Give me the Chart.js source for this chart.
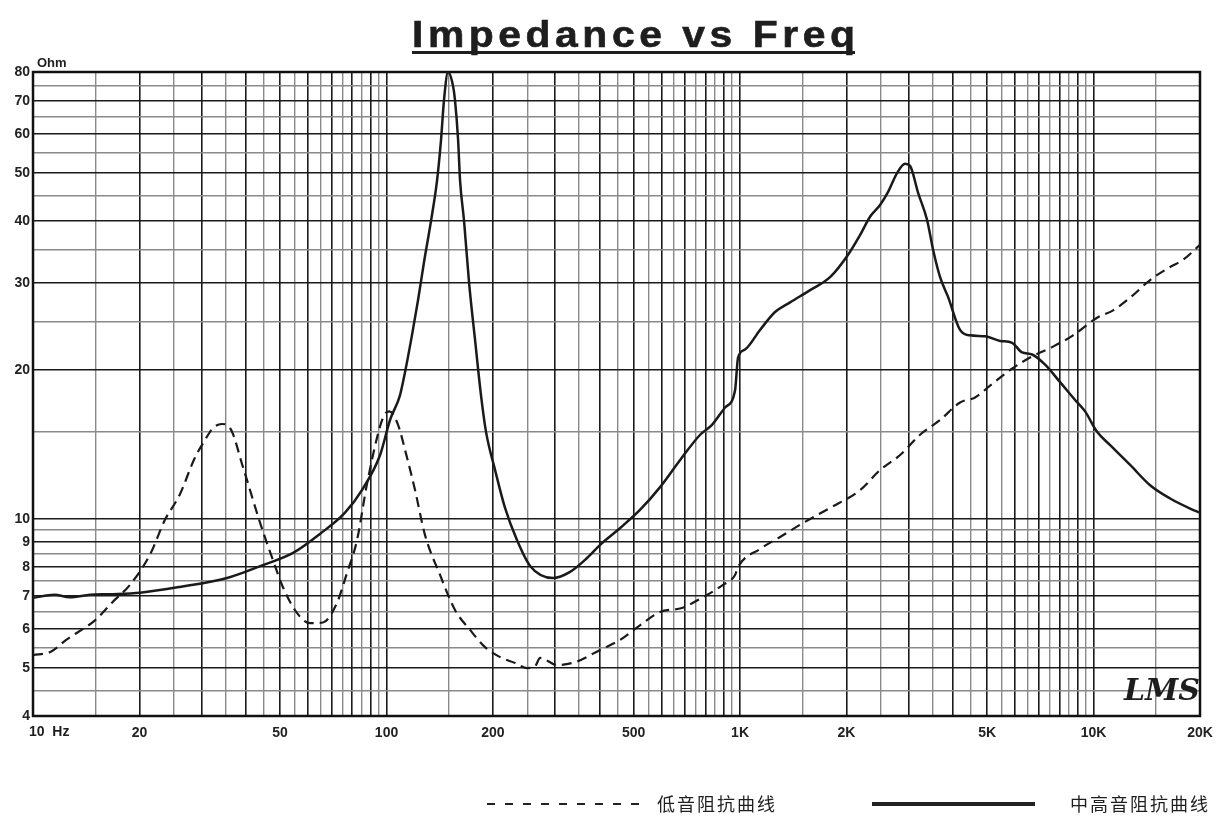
<!DOCTYPE html>
<html>
<head>
<meta charset="utf-8">
<script src="https://cdn.jsdelivr.net/npm/chart.js@4.4.0/dist/chart.umd.min.js"></script>
<style>
  html, body { margin:0; padding:0; background:#fff; }
  #wrap { width:1227px; height:818px; position:relative; }
</style>
</head>
<body>
<div id="wrap"><canvas id="chart"></canvas></div>
<script>
// bass (dashed) impedance curve
const freqBass = [10,11.2,12.5,15,16.8,18.8,21.4,23.6,26,28.7,30.3,32.3,34.2,36.1,39.3,43.9,47.7,50.9,55.8,60.8,66.1,72.4,77.3,82.5,88.1,95.9,99,102,107.8,112.8,120.4,128.5,141.7,156.2,172.3,190,209.5,231,250,263,272,304,342,402,458,521,594,685,771,895,968,987,1139,1298,1508,1797,2186,2489,2836,3230,3680,4191,4622,5095,5805,6613,7681,8750,10230,11360,12690,14450,16460,17920,20000];
const ohmBass  = [5.31,5.39,5.72,6.25,6.8,7.36,8.46,9.95,11.2,13.3,14.24,15.27,15.56,15.27,12.7,9.82,8.27,7.29,6.46,6.16,6.18,6.77,7.78,9.06,11.8,15.4,16.3,16.5,15.5,13.8,11.44,9.28,7.71,6.55,5.97,5.51,5.26,5.12,5.0,5.04,5.24,5.07,5.14,5.44,5.7,6.1,6.49,6.61,6.9,7.36,7.71,8.0,8.7,9.2,9.82,10.53,11.44,12.56,13.47,14.8,15.85,17.2,17.6,18.6,20,21.2,22.3,23.5,25.5,26.4,28,30.4,32.3,33.4,35.8];

// mid/high (solid) impedance curve
const freqMid = [10,11.5,12.7,14.5,16.5,20.1,26,35.4,44.7,54.4,64.8,76.3,85.2,95.9,102.3,109.2,112.8,118,122.8,127.7,133.6,139,142.6,145.4,149.3,154.2,156.2,159.4,161.4,165.7,171.2,178,185,191.2,202.8,216.4,234,254.7,295.8,330.5,369,402,458,521,594,677,771,833,907,968,987,1033,1139,1256,1385,1578,1797,2021,2186,2332,2489,2623,2780,2930,3026,3189,3381,3516,3680,3876,4191,4472,4933,5440,5882,6278,6699,7294,8040,8866,9462,10230,11140,12690,14450,16460,18750,20000];
const ohmMid  = [6.93,7.03,6.95,7.03,7.05,7.1,7.29,7.6,8.07,8.54,9.33,10.3,11.44,13.47,15.85,17.8,19.8,23.5,27.7,33.1,40,48.4,58.3,70.2,80,75,70.2,58.3,48.4,40,30,23,17.8,15,12.56,10.53,9.06,8.04,7.6,7.82,8.34,8.87,9.59,10.43,11.6,13.16,14.8,15.5,16.8,18.2,21.2,22,24.1,26.2,27.4,29,30.8,34.2,37.5,40.8,43.1,45.8,50,52.2,51.7,45.6,40.2,35,30.8,28.1,24.1,23.5,23.4,22.9,22.7,21.7,21.5,20.5,18.9,17.4,16.5,15,14.1,12.86,11.7,11,10.5,10.3];

const yTickValues = [4,5,6,7,8,9,10,20,30,40,50,60,70,80];
const xTickValues = [10,20,50,100,200,500,1000,2000,5000,10000,20000];
const xTickLabels = ['10  Hz','20','50','100','200','500','1K','2K','5K','10K','20K'];
const seriesNames = ['低音阻抗曲线','中高音阻抗曲线'];

// grid lines: every 5 Hz / 50 Hz / 500 Hz, every 0.5 / 5 ohm
const xGrid = [];
for (let v = 10; v <= 100; v += 5) xGrid.push(v);
for (let v = 150; v <= 1000; v += 50) xGrid.push(v);
for (let v = 1500; v <= 10000; v += 500) xGrid.push(v);
xGrid.push(15000, 20000);
const yGrid = [];
for (let v = 4; v <= 10; v += 0.5) yGrid.push(v);
for (let v = 15; v <= 80; v += 5) yGrid.push(v);

function isMajor(v){
  const m = v / Math.pow(10, Math.floor(Math.log10(v) + 1e-9));
  return Math.abs(m - Math.round(m)) < 1e-6;
}

const FONT = '"Liberation Sans", Arial, sans-serif';

const decor = {
  id: 'decor',
  beforeDatasetsDraw(chart){
    const {ctx, chartArea:a} = chart;
    ctx.save();
    ctx.strokeStyle = '#111';
    ctx.lineWidth = 2.5;
    ctx.strokeRect(a.left, a.top, a.right - a.left, a.bottom - a.top);
    ctx.restore();
  },
  afterDraw(chart){
    const {ctx} = chart;
    const xs = chart.scales.x;
    ctx.save();
    ctx.fillStyle = '#1e1e1e';
    // title, spaced and slightly widened to the reference width
    const title = 'Impedance vs Freq';
    ctx.font = 'bold 36px ' + FONT;
    ctx.letterSpacing = '4px';
    ctx.textBaseline = 'alphabetic';
    ctx.textAlign = 'left';
    const w0 = ctx.measureText(title).width - 4;
    ctx.save();
    ctx.translate(412, 47);
    ctx.scale(443 / w0, 1);
    ctx.fillText(title, 0, 0);
    ctx.lineWidth = 0.6;
    ctx.strokeStyle = '#1e1e1e';
    ctx.strokeText(title, 0, 0);
    ctx.restore();
    ctx.fillRect(412, 51, 443, 3);
    ctx.letterSpacing = '0px';
    // unit
    ctx.font = 'bold 13px ' + FONT;
    ctx.fillText('Ohm', 37, 67);
    // first x label sits to the right of its gridline
    ctx.font = 'bold 14px ' + FONT;
    ctx.textBaseline = 'middle';
    ctx.fillText(xTickLabels[0], xs.getPixelForValue(xTickValues[0]) - 4, 732);
    // LMS mark
    ctx.font = 'italic bold 30px "DejaVu Serif", serif';
    ctx.textBaseline = 'alphabetic';
    ctx.fillText('LMS', 1124, 700);
    // legend
    const ly = 804;
    ctx.strokeStyle = '#222';
    ctx.lineWidth = 2;
    ctx.setLineDash([8, 10]);
    ctx.beginPath(); ctx.moveTo(487, ly); ctx.lineTo(640, ly); ctx.stroke();
    ctx.setLineDash([]);
    ctx.lineWidth = 4;
    ctx.beginPath(); ctx.moveTo(872, ly); ctx.lineTo(1035, ly); ctx.stroke();
    ctx.font = '18px "Noto Sans CJK SC", sans-serif';
    ctx.letterSpacing = '2px';
    ctx.textBaseline = 'middle';
    ctx.fillText(seriesNames[0], 657, ly);
    ctx.fillText(seriesNames[1], 1070, ly);
    ctx.restore();
  }
};

new Chart(document.getElementById('chart'), {
  type: 'line',
  data: {
    datasets: [
      {
        label: seriesNames[0],
        data: freqBass.map((f, i) => ({x: f, y: ohmBass[i]})),
        borderColor: '#1a1a1a', borderWidth: 2.2, borderDash: [10, 6],
        pointRadius: 0, cubicInterpolationMode: 'monotone', fill: false
      },
      {
        label: seriesNames[1],
        data: freqMid.map((f, i) => ({x: f, y: ohmMid[i]})),
        borderColor: '#1a1a1a', borderWidth: 2.5,
        pointRadius: 0, cubicInterpolationMode: 'monotone', fill: false
      }
    ]
  },
  options: {
    responsive: true,
    maintainAspectRatio: false,
    animation: false,
    layout: { padding: { left: 0, right: 27, top: 72, bottom: 72 } },
    plugins: { legend: { display: false }, tooltip: { enabled: false } },
    scales: {
      x: {
        type: 'logarithmic', min: 10, max: 20000,
        afterFit: s => { s.height = 30; },
        afterBuildTicks: s => { s.ticks = xGrid.map(v => ({value: v})); },
        grid: {
          drawTicks: false,
          color: c => isMajor(c.tick.value) ? '#1a1a1a' : '#8a8a8a',
          lineWidth: c => isMajor(c.tick.value) ? 1.6 : 1.4
        },
        border: { display: false },
        ticks: {
          autoSkip: false, maxRotation: 0, padding: 9,
          color: '#222', font: { family: FONT, size: 14, weight: 'bold' },
          callback: v => {
            const i = xTickValues.indexOf(v);
            return i > 0 ? xTickLabels[i] : '';
          }
        }
      },
      y: {
        type: 'logarithmic', min: 4, max: 80,
        afterFit: s => { s.width = 33; },
        afterBuildTicks: s => { s.ticks = yGrid.map(v => ({value: v})); },
        grid: {
          drawTicks: false,
          color: c => isMajor(c.tick.value) ? '#1a1a1a' : '#8a8a8a',
          lineWidth: c => isMajor(c.tick.value) ? 1.6 : 1.4
        },
        border: { display: false },
        ticks: {
          autoSkip: false, padding: 3,
          color: '#222', font: { family: FONT, size: 14, weight: 'bold' },
          callback: v => yTickValues.includes(v) ? String(v) : ''
        }
      }
    }
  },
  plugins: [decor]
});
</script>
</body>
</html>
